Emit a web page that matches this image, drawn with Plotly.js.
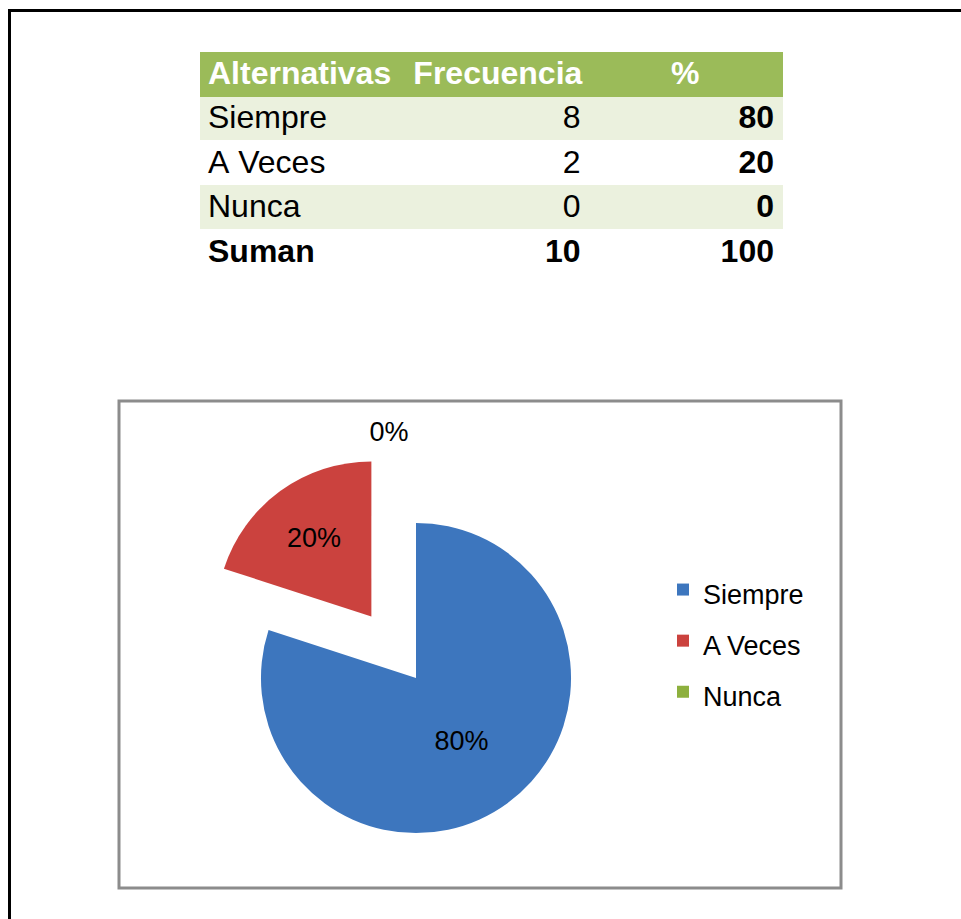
<!DOCTYPE html>
<html>
<head>
<meta charset="utf-8">
<script src="https://cdn.plot.ly/plotly-3.0.1.min.js"></script>
<style>html,body{margin:0;padding:0;background:#fff;}#chart{width:961px;height:919px;}</style>
</head>
<body>
<div id="chart"></div>
<script>
// ---- data ----
var headers = ["Alternativas", "Frecuencia", "%"];
var categories = ["Siempre", "A Veces", "Nunca"];
var frecuencia = [8, 2, 0];
var porcentaje = [80, 20, 0];
var totalLabel = "Suman";
var totalFrecuencia = 10;
var totalPorcentaje = 100;

// ---- styles ----
var sliceColors = ["#3D76BE", "#CB423E", "#8DB03E"];
var rowFill = ["#EBF1DE", "#FFFFFF", "#EBF1DE", "#FFFFFF"];
var FONT = "'Liberation Sans', Arial, sans-serif";

function nb(s) { return String(s).replace(/ /g, "\u00a0"); }
var col1 = categories.map(nb).concat([nb(totalLabel)]);
var col2 = frecuencia.map(String).concat([String(totalFrecuencia)]);
var col3 = porcentaje.map(String).concat([String(totalPorcentaje)]);

var W = 961, H = 919;
function px(x) { return x / W; }
function py(y) { return 1 - y / H; }

var wCol1 = ["normal", "normal", "normal", "bold"];
var wCol2 = ["normal", "normal", "normal", "bold"];
var wCol3 = ["bold", "bold", "bold", "bold"];

var table = {
  type: "table",
  domain: { x: [px(200), px(782)], y: [py(280), py(52)] },
  columnwidth: [205, 183, 193],
  header: {
    values: headers,
    align: ["left", "left", "center"],
    height: 44,
    fill: { color: "#9BBB59" },
    line: { width: 1, color: "#9BBB59" },
    font: { family: FONT, size: 32, color: "#FFFFFF", weight: "bold" }
  },
  cells: {
    values: [col1, col2, col3],
    align: ["left", "right", "right"],
    height: 44.5,
    fill: { color: [rowFill, rowFill, rowFill] },
    line: { width: 1, color: [rowFill, rowFill, rowFill] },
    font: { family: FONT, size: 32, color: "#000000", weight: [wCol1, wCol2, wCol3] }
  }
};

var pie = {
  type: "pie",
  labels: categories.map(function (c) { return '<span style="font-size:27px">' + c + '</span>'; }),
  values: frecuencia,
  sort: false,
  direction: "clockwise",
  rotation: 0,
  pull: [0, 0.49, 0.49],
  marker: { colors: sliceColors, line: { width: 0 } },
  texttemplate: "%{percent:.0%}",
  textposition: ["inside", "inside", "outside"],
  insidetextorientation: "horizontal",
  textfont: { family: FONT, size: 27, color: "#000000" },
  outsidetextfont: { family: FONT, size: 27, color: "#000000" },
  hoverinfo: "skip",
  domain: { x: [px(185), px(647)], y: [py(909), py(447)] }
};

var layout = {
  width: W, height: H,
  margin: { l: 0, r: 0, t: 0, b: 0 },
  paper_bgcolor: "#FFFFFF",
  showlegend: true,
  legend: {
    x: px(663), xanchor: "left",
    y: py(559), yanchor: "top",
    font: { family: FONT, size: 37, color: "#000000" },
    bgcolor: "rgba(0,0,0,0)"
  },
  shapes: [
    { type: "line", xref: "paper", yref: "paper", x0: px(8), x1: 1, y0: py(10.5), y1: py(10.5), line: { color: "#000000", width: 3 } },
    { type: "line", xref: "paper", yref: "paper", x0: px(9.5), x1: px(9.5), y0: py(9), y1: 0, line: { color: "#000000", width: 3 } },
    { type: "rect", xref: "paper", yref: "paper", x0: px(119), x1: px(841), y0: py(401), y1: py(888), line: { color: "#8C8C8C", width: 3 }, fillcolor: "rgba(0,0,0,0)" }
  ]
};

Plotly.newPlot("chart", [table, pie], layout, { displayModeBar: false, staticPlot: true });
</script>
</body>
</html>
